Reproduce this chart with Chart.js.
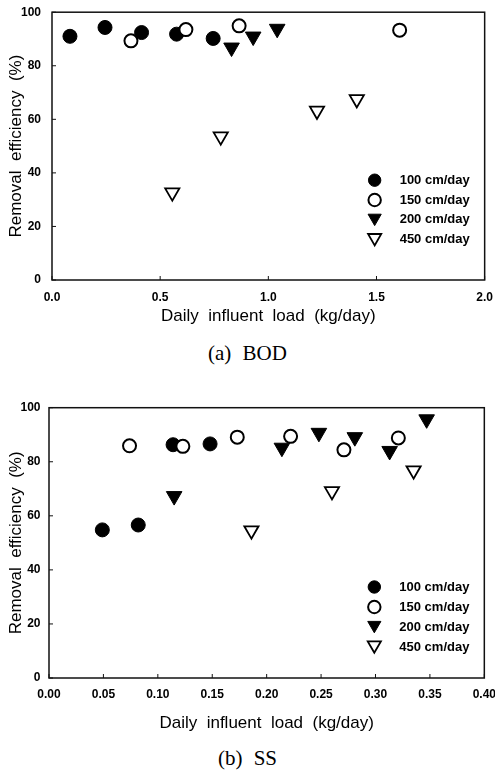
<!DOCTYPE html>
<html>
<head>
<meta charset="utf-8">
<script src="https://cdn.jsdelivr.net/npm/chart.js@4.4.1/dist/chart.umd.min.js"></script>
<style>
  body { margin: 0; background: #fff; width: 495px; height: 771px; position: relative; overflow: hidden; }
  .box { position: absolute; left: 0; }
  .cap { position: absolute; left: 0; width: 495px; text-align: center; color: #000;
         font-family: "Liberation Serif", serif; font-size: 21px; line-height: 24px; word-spacing: 6px; }
</style>
</head>
<body>
<!-- chart boxes run a little past the page edges: tick padding also pads the plot edges -->
<div class="box" style="top:-6px;width:503px;height:337px"><canvas id="bod"></canvas></div>
<div class="cap" style="top:341px">(a) BOD</div>
<div class="box" style="top:392px;width:505px;height:346px"><canvas id="ss"></canvas></div>
<div class="cap" style="top:746px">(b) SS</div>

<script>
// series labels
const seriesLabels = ['100 cm/day', '150 cm/day', '200 cm/day', '450 cm/day'];

// (a) BOD : daily influent load (kg/day) vs removal efficiency (%)
const bodLoad100 = [0.083, 0.245, 0.414, 0.576, 0.745];
const bodEff100  = [91.0, 94.3, 92.4, 91.8, 90.2];
const bodLoad150 = [0.365, 0.619, 0.865, 1.607];
const bodEff150  = [89.3, 93.5, 94.9, 93.3];
const bodLoad200 = [0.83, 0.93, 1.041];
const bodEff200  = [86.8, 90.9, 93.8];
const bodLoad450 = [0.556, 0.78, 1.225, 1.409];
const bodEff450  = [32.7, 53.6, 63.2, 67.5];

// (b) SS
const ssLoad100 = [0.049, 0.082, 0.114, 0.148];
const ssEff100  = [54.8, 56.6, 86.3, 86.6];
const ssLoad150 = [0.074, 0.123, 0.173, 0.222, 0.271, 0.321];
const ssEff150  = [85.9, 85.7, 89.1, 89.4, 84.4, 88.8];
const ssLoad200 = [0.115, 0.214, 0.248, 0.281, 0.313, 0.347];
const ssEff200  = [67.3, 85.2, 90.7, 89.1, 84.0, 95.7];
const ssLoad450 = [0.186, 0.26, 0.335];
const ssEff450  = [54.6, 69.1, 76.8];

const effTicks = [0, 20, 40, 60, 80, 100];

function pairs(xs, ys) {
  return xs.map((x, i) => ({ x: x, y: ys[i] }));
}

// marker look for each series
const markers = [
  { pointStyle: 'circle', radius: 7, rotation: 0, bg: '#000', borderWidth: 1 },
  { pointStyle: 'circle', radius: 6.5, rotation: 0, bg: '#fff', borderWidth: 2 },
  { pointStyle: 'triangle', radius: 9, rotation: 180, bg: '#000', borderWidth: 1 },
  { pointStyle: 'triangle', radius: 8.2, rotation: 180, bg: '#fff', borderWidth: 1.8 }
];

function makeDatasets(series) {
  return series.map((pts, i) => ({
    label: seriesLabels[i],
    data: pts,
    showLine: false,
    pointStyle: markers[i].pointStyle,
    pointRadius: markers[i].radius,
    pointRotation: markers[i].rotation,
    pointBackgroundColor: markers[i].bg,
    pointBorderColor: '#000',
    pointBorderWidth: markers[i].borderWidth,
    order: 4 - i
  }));
}

// box round the plot and short inward ticks
const framePlugin = {
  id: 'frame',
  afterDatasetsDraw(chart) {
    const { ctx, chartArea: a, scales } = chart;
    ctx.save();
    ctx.strokeStyle = '#111';
    ctx.lineWidth = 1.5;
    ctx.strokeRect(a.left, a.top, a.right - a.left, a.bottom - a.top);
    ctx.lineWidth = 1;
    ctx.beginPath();
    scales.x.ticks.forEach(t => {
      const px = scales.x.getPixelForValue(t.value);
      ctx.moveTo(px, a.bottom);
      ctx.lineTo(px, a.bottom - 4);
    });
    scales.y.ticks.forEach(t => {
      const py = scales.y.getPixelForValue(t.value);
      ctx.moveTo(a.left, py);
      ctx.lineTo(a.left + 4, py);
    });
    ctx.stroke();
    ctx.restore();
  }
};

// legend inside the plot, lower right
const innerLegend = {
  id: 'innerLegend',
  afterDraw(chart, args, opts) {
    const { ctx, chartArea: a } = chart;
    ctx.save();
    ctx.font = 'bold 13px "Liberation Sans", Arial, sans-serif';
    ctx.textBaseline = 'middle';
    chart.data.datasets.forEach((ds, i) => {
      const y = a.top + opts.top + i * opts.gap;
      const mx = a.right - 110;
      const m = markers[i];
      const isTri = m.pointStyle === 'triangle';
      ctx.fillStyle = m.bg;
      ctx.strokeStyle = '#000';
      ctx.lineWidth = m.borderWidth;
      Chart.helpers.drawPoint(ctx, {
        pointStyle: m.pointStyle,
        radius: isTri ? 7.6 : 6.2,
        rotation: m.rotation,
        borderWidth: m.borderWidth
      }, mx, isTri ? y - 1.8 : y);
      ctx.fillStyle = '#000';
      ctx.fillText(ds.label, a.right - 85, y);
    });
    ctx.restore();
  }
};

function makeChart(id, series, xMax, xStep, xDigits, layout) {
  return new Chart(document.getElementById(id), {
    type: 'scatter',
    data: { datasets: makeDatasets(series) },
    options: {
      responsive: true,
      maintainAspectRatio: false,
      animation: false,
      events: [],
      layout: {
        autoPadding: false,
        padding: 0
      },
      plugins: {
        legend: { display: false },
        tooltip: { enabled: false },
        innerLegend: { top: layout.legendTop, gap: layout.legendGap }
      },
      scales: {
        x: {
          type: 'linear',
          min: 0,
          max: xMax,
          afterFit(s) { s.height = layout.xHeight; },
          grid: { display: false, drawTicks: false },
          border: { display: false },
          ticks: {
            stepSize: xStep,
            padding: layout.xPad,
            color: '#000',
            font: { family: '"Liberation Sans", Arial, sans-serif', size: 12, weight: 'bold' },
            maxRotation: 0,
            callback: v => Number(v).toFixed(xDigits)
          },
          title: {
            display: true,
            text: 'Daily  influent  load  (kg/day)',
            color: '#000',
            font: { family: '"Liberation Sans", Arial, sans-serif', size: 17 }
          }
        },
        y: {
          min: 0,
          max: 100,
          afterFit(s) { s.width = layout.yWidth; },
          afterBuildTicks(s) { s.ticks = effTicks.map(v => ({ value: v })); },
          grid: { display: false, drawTicks: false },
          border: { display: false },
          ticks: {
            padding: layout.yPad,
            color: '#000',
            font: { family: '"Liberation Sans", Arial, sans-serif', size: 12, weight: 'bold' }
          },
          title: {
            display: true,
            text: 'Removal  efficiency  (%)',
            color: '#000',
            padding: { top: 6, bottom: 4 },
            font: { family: '"Liberation Sans", Arial, sans-serif', size: 17 }
          }
        }
      }
    },
    plugins: [framePlugin, innerLegend]
  });
}

makeChart('bod', [
  pairs(bodLoad100, bodEff100),
  pairs(bodLoad150, bodEff150),
  pairs(bodLoad200, bodEff200),
  pairs(bodLoad450, bodEff450)
], 2.0, 0.5, 1, { xHeight: 51, yWidth: 52, xPad: 10, yPad: 11, legendTop: 168, legendGap: 19.8 });

makeChart('ss', [
  pairs(ssLoad100, ssEff100),
  pairs(ssLoad150, ssEff150),
  pairs(ssLoad200, ssEff200),
  pairs(ssLoad450, ssEff450)
], 0.4, 0.05, 2, { xHeight: 60, yWidth: 49, xPad: 9, yPad: 8.5, legendTop: 179.3, legendGap: 20 });
</script>
</body>
</html>
